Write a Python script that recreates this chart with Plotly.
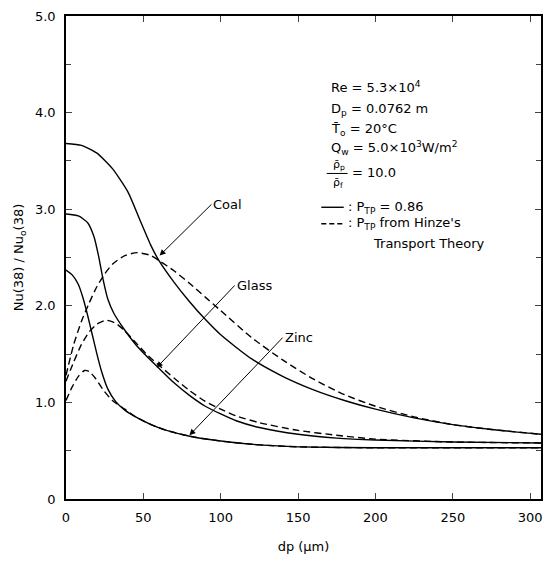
import plotly.graph_objects as go

# ---- data ----
coal_solid_x = [0, 10, 20, 30, 40, 48, 55, 60, 70, 80, 90, 100, 120, 140, 160, 180, 200, 225, 250, 275, 307]
coal_solid_y = [3.68, 3.66, 3.58, 3.42, 3.18, 2.88, 2.62, 2.47, 2.24, 2.04, 1.86, 1.70, 1.45, 1.27, 1.13, 1.02, 0.93, 0.84, 0.77, 0.72, 0.67]
coal_dash_x = [0, 5, 10, 15, 20, 25, 30, 38, 46, 55, 60, 70, 80, 90, 100, 120, 140, 160, 180, 200, 225, 250, 275, 307]
coal_dash_y = [1.28, 1.60, 1.84, 2.03, 2.20, 2.33, 2.43, 2.52, 2.55, 2.52, 2.47, 2.36, 2.23, 2.09, 1.95, 1.67, 1.44, 1.24, 1.08, 0.96, 0.85, 0.77, 0.72, 0.67]

glass_solid_x = [0, 8, 14, 18, 21, 24, 27, 31, 37, 45, 52, 59, 70, 80, 90, 100, 110, 125, 150, 175, 200, 250, 307]
glass_solid_y = [2.95, 2.93, 2.86, 2.72, 2.52, 2.27, 2.07, 1.92, 1.77, 1.60, 1.48, 1.37, 1.20, 1.07, 0.96, 0.88, 0.81, 0.74, 0.67, 0.63, 0.61, 0.59, 0.58]
glass_dash_x = [0, 5, 10, 15, 20, 26, 32, 38, 45, 52, 59, 70, 80, 90, 100, 110, 125, 150, 175, 200, 250, 307]
glass_dash_y = [1.22, 1.42, 1.60, 1.73, 1.81, 1.85, 1.82, 1.74, 1.62, 1.50, 1.40, 1.25, 1.12, 1.01, 0.93, 0.86, 0.79, 0.71, 0.66, 0.62, 0.59, 0.58]

zinc_solid_x = [0, 4, 8, 11, 14, 17, 20, 23, 27, 32, 38, 45, 55, 65, 80, 100, 125, 150, 200, 307]
zinc_solid_y = [2.37, 2.32, 2.22, 2.08, 1.90, 1.70, 1.50, 1.32, 1.14, 1.01, 0.92, 0.85, 0.77, 0.71, 0.65, 0.60, 0.56, 0.54, 0.53, 0.53]
zinc_dash_x = [0, 4, 8, 12, 15, 19, 24, 30, 38, 45, 55, 65, 80, 100, 125, 150, 200, 307]
zinc_dash_y = [1.02, 1.16, 1.27, 1.33, 1.32, 1.25, 1.13, 1.02, 0.93, 0.85, 0.77, 0.71, 0.65, 0.60, 0.56, 0.54, 0.53, 0.53]

x_ticks = [0, 50, 100, 150, 200, 250, 300]
y_ticks = [0, 1, 2, 3, 4, 5]
y_ticktext = ["0", "1.0", "2.0", "3.0", "4.0", "5.0"]

FONT = "DejaVu Sans"
DASH = "7px,4px"

fig = go.Figure()
series = [
    (coal_solid_x, coal_solid_y, "solid"),
    (coal_dash_x, coal_dash_y, DASH),
    (glass_solid_x, glass_solid_y, "solid"),
    (glass_dash_x, glass_dash_y, DASH),
    (zinc_solid_x, zinc_solid_y, "solid"),
    (zinc_dash_x, zinc_dash_y, DASH),
]
for xs, ys, d in series:
    fig.add_trace(go.Scatter(x=xs, y=ys, mode="lines",
                             line=dict(color="black", width=1.4, dash=d, shape="spline", smoothing=0.6),
                             showlegend=False, hoverinfo="skip"))

ann = []
def txt(x, y, t, size=13):
    ann.append(dict(x=x, y=y, xref="x", yref="y", text=t, showarrow=False,
                    xanchor="left", yanchor="middle", font=dict(family=FONT, size=size, color="black")))

txt(170, 4.26, "Re = 5.3×10<sup>4</sup>")
txt(170, 4.03, "D<sub>p</sub> = 0.0762 m")
txt(170, 3.83, "T\u0304<sub>o</sub> = 20°C")
txt(170, 3.63, "Q<sub>w</sub> = 5.0×10<sup>3</sup>W/m<sup>2</sup>")
txt(171, 3.46, "ρ\u0304<sub>p</sub>", 11)
txt(171, 3.27, "ρ\u0304<sub>f</sub>", 11)
txt(183.5, 3.38, "= 10.0")
txt(181, 3.02, ": P<sub>TP</sub> = 0.86")
txt(181, 2.85, ": P<sub>TP</sub> from Hinze's")
txt(197, 2.65, "Transport Theory")

def arrow(hx, hy, tx, ty, label):
    ann.append(dict(x=hx, y=hy, ax=tx, ay=ty, xref="x", yref="y", axref="x", ayref="y",
                    text=label, showarrow=True, arrowhead=2, arrowsize=1.2, arrowwidth=1,
                    arrowcolor="black", xanchor="left", yanchor="middle",
                    font=dict(family=FONT, size=13, color="black")))

arrow(60.5, 2.52, 94, 3.05, "Coal")
arrow(58.6, 1.36, 109, 2.21, "Glass")
arrow(79.8, 0.66, 140, 1.67, "Zinc")

shapes = [
    dict(type="line", xref="x", yref="y", x0=168.5, x1=182, y0=3.37, y1=3.37, line=dict(color="black", width=1)),
    dict(type="line", xref="x", yref="y", x0=165, x1=179.5, y0=3.02, y1=3.02, line=dict(color="black", width=1.4)),
    dict(type="line", xref="x", yref="y", x0=165, x1=179.5, y0=2.85, y1=2.85, line=dict(color="black", width=1.4, dash="5px,3px")),
]

fig.update_layout(
    width=552, height=561,
    margin=dict(l=66, r=9, t=14, b=60),
    paper_bgcolor="white", plot_bgcolor="white",
    font=dict(family=FONT, size=13, color="black"),
    annotations=ann, shapes=shapes,
    xaxis=dict(range=[0, 307], tickvals=x_ticks, ticks="inside", ticklen=6, tickwidth=1,
               showline=True, linecolor="black", linewidth=1.5, mirror="ticks",
               showgrid=False, zeroline=False, tickfont=dict(size=13), ticklabelstandoff=6,
               title=dict(text="dp (μm)", font=dict(size=13), standoff=18)),
    yaxis=dict(range=[0, 5], tickvals=y_ticks, ticktext=y_ticktext, ticks="inside", ticklen=6, tickwidth=1,
               showline=True, linecolor="black", linewidth=1.5, mirror="ticks",
               showgrid=False, zeroline=False, tickfont=dict(size=13), ticklabelstandoff=6,
               minor=dict(dtick=0.5, ticks="inside", ticklen=5, tickwidth=1, showgrid=False),
               title=dict(text="Nu(38) / Nu<sub>o</sub>(38)", font=dict(size=13), standoff=8)),
)

fig.write_html("out.html")
